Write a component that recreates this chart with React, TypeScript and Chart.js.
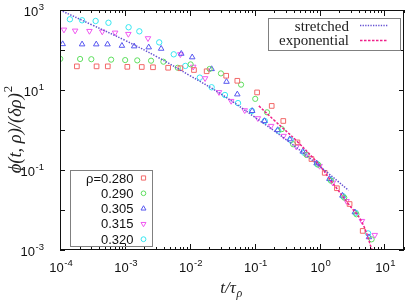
import React, { useEffect, useRef } from "react";
import { Chart, registerables } from "chart.js";

Chart.register(...registerables);

// ---- axis ranges / ticks ----
const X_MIN = 1e-4;
const X_MAX = 20;
const Y_MIN = 1e-3;
const Y_MAX = 1e3;
const xTickExps = [-4, -3, -2, -1, 0, 1];
const yTickExps = [-3, -2, -1, 0, 1, 2, 3];
const yLabelExps = [-3, -1, 1, 3];

// ---- series ----
const rhoLabels = ["ρ=0.280", "0.290", "0.305", "0.315", "0.320"];

const t280 = [1.82e-4, 3.66e-4, 5.45e-4, 1.09e-3, 1.82e-3, 2.71e-3, 4.64e-3, 7.16e-3, 0.0116, 0.0182, 0.0364, 0.054, 0.109, 0.183, 0.276, 0.456, 0.75, 1.2, 1.85, 2.9, 4.62];
const p280 = [39, 39, 39, 38, 37.6, 37, 36, 35, 31.6, 29.4, 22.7, 17, 8.7, 4.0, 1.68, 0.49, 0.188, 0.085, 0.035, 0.0141, 0.003];

const t290 = [1.01e-4, 2.04e-4, 3.04e-4, 6.14e-4, 1.01e-3, 1.55e-3, 2.53e-3, 3.92e-3, 6.52e-3, 0.0103, 0.0202, 0.0302, 0.0617, 0.102, 0.155, 0.262, 0.392, 0.63, 0.95, 1.5, 2.4, 3.7, 6.34];
const p290 = [60, 59.6, 58.8, 57.4, 56, 55, 54, 51, 36, 43.7, 33.5, 26, 13.6, 6.0, 2.77, 1.05, 0.44, 0.238, 0.136, 0.054, 0.0204, 0.0078, 0.00185];

const t305 = [1.1e-4, 2.19e-4, 3.62e-4, 5.4e-4, 9.0e-4, 1.39e-3, 2.33e-3, 3.62e-3, 7.4e-3, 0.0109, 0.0217, 0.0368, 0.054, 0.0916, 0.1416, 0.226, 0.347, 0.55, 0.9, 1.42, 2.25, 3.5, 5.77];
const p305 = [141, 139, 139, 139, 128, 124, 117, 108, 81, 66, 33.5, 16.1, 7.8, 3.0, 1.68, 1.0, 0.59, 0.29, 0.148, 0.06, 0.023, 0.0088, 0.0021];

const t315 = [1.15e-4, 1.71e-4, 2.84e-4, 4.48e-4, 7.07e-4, 1.13e-3, 2.27e-3, 7.16e-3, 0.0113, 0.0172, 0.0282, 0.0434, 0.0702, 0.112, 0.179, 0.279, 0.44, 0.62, 1.0, 1.6, 2.6, 4.5, 7.1];
const p315 = [322, 304, 298, 288, 271, 251, 196, 78, 38, 19.6, 8.8, 5.3, 3.1, 1.96, 1.26, 0.71, 0.38, 0.245, 0.126, 0.048, 0.0167, 0.0053, 0.00237];

const t320 = [1.42e-4, 2.19e-4, 3.54e-4, 5.58e-4, 1.14e-3, 1.67e-3, 3.38e-3, 5.66e-3, 8.54e-3, 0.01425, 0.0217, 0.0348, 0.0554, 0.0906, 0.143, 0.231, 0.36, 0.58, 0.92, 1.45, 2.3, 3.6, 5.6];
const p320 = [586, 553, 531, 480, 370, 293, 155, 78, 40, 20.4, 11.7, 7.5, 4.7, 3.0, 1.68, 0.96, 0.56, 0.27, 0.14, 0.058, 0.022, 0.0085, 0.0026];

// fit curves
const tStretched = [1e-4, 3.16e-4, 1e-3, 3.16e-3, 0.01, 0.0316, 0.1, 0.316, 1, 2.8];
const pStretched = [1000, 420, 175, 67, 23, 7.6, 2.1, 0.55, 0.125, 0.031];
const tExponential = [0.116, 0.2, 0.456, 1.0, 1.435, 2.8, 4.46, 6.56];
const pExponential = [4.0, 1.75, 0.51, 0.13, 0.059, 0.014, 0.0051, 0.00091];

const fitLabels = ["stretched", "exponential"];

const seriesT = [t280, t290, t305, t315, t320];
const seriesP = [p280, p290, p305, p315, p320];
const seriesColors = ["#f26868", "#5ede5e", "#5858f0", "#f058f0", "#35e6f0"];
const seriesStyles = ["rect", "circle", "triangle", "triangle", "circle"];
const seriesRot = [0, 0, 0, 180, 0];
const seriesRadius = [3.3, 2.6, 3.2, 3.2, 2.7];
const stretchedColor = "#6450d2";
const exponentialColor = "#f0208a";

const SANS = '"Liberation Sans", Arial, sans-serif';
const SERIF = '"Liberation Serif", "Times New Roman", serif';

function toXY(ts: number[], ps: number[]) {
  return ts.map((t, i) => ({ x: t, y: ps[i] }));
}

function drawPow(ctx: CanvasRenderingContext2D, exp: number, x: number, y: number, align: "center" | "right") {
  const base = "10";
  const sup = exp < 0 ? "-" + Math.abs(exp) : String(exp);
  ctx.font = `13px ${SANS}`;
  const w1 = ctx.measureText(base).width;
  ctx.font = `9.5px ${SANS}`;
  const w2 = ctx.measureText(sup).width;
  const total = w1 + w2 + 0.5;
  const x0 = align === "center" ? x - total / 2 : x - total;
  ctx.textAlign = "left";
  ctx.textBaseline = "alphabetic";
  ctx.font = `13px ${SANS}`;
  ctx.fillText(base, x0, y);
  ctx.font = `9.5px ${SANS}`;
  ctx.fillText(sup, x0 + w1 + 0.5, y - 6);
}

const framePlugin = {
  id: "gnuFrame",
  afterDraw(chart: any) {
    const ctx: CanvasRenderingContext2D = chart.ctx;
    const { left, right, top, bottom } = chart.chartArea;
    const xs = chart.scales.x;
    const ys = chart.scales.y;
    ctx.save();
    ctx.strokeStyle = "#111";
    ctx.lineWidth = 1;
    ctx.strokeRect(Math.round(left) + 0.5, Math.round(top) + 0.5, Math.round(right - left) - 1, Math.round(bottom - top) - 1);

    // x ticks (inward, bottom and top)
    ctx.beginPath();
    for (const e of xTickExps) {
      for (let m = 1; m <= 9; m++) {
        const v = m * Math.pow(10, e);
        if (v < X_MIN || v > X_MAX) continue;
        const px = Math.round(xs.getPixelForValue(v)) + 0.5;
        const len = m === 1 ? 6 : 3;
        ctx.moveTo(px, bottom);
        ctx.lineTo(px, bottom - len);
        ctx.moveTo(px, top);
        ctx.lineTo(px, top + len);
      }
    }
    for (const e of yTickExps) {
      const py = Math.round(ys.getPixelForValue(Math.pow(10, e))) + 0.5;
      ctx.moveTo(left, py);
      ctx.lineTo(left + 5, py);
      ctx.moveTo(right, py);
      ctx.lineTo(right - 5, py);
    }
    ctx.stroke();

    // tick labels
    ctx.fillStyle = "#111";
    for (const e of xTickExps) {
      const px = xs.getPixelForValue(Math.pow(10, e));
      drawPow(ctx, e, px + 1, bottom + 22, "center");
    }
    for (const e of yLabelExps) {
      const py = ys.getPixelForValue(Math.pow(10, e));
      drawPow(ctx, e, left - 16, py + 6, "right");
    }

    // axis titles
    ctx.fillStyle = "#222";
    // x title: t/τ_ρ
    {
      const main = "t/τ";
      const sub = "ρ";
      ctx.font = `italic 17px ${SERIF}`;
      const w1 = ctx.measureText(main).width;
      ctx.font = `italic 12px ${SERIF}`;
      const w2 = ctx.measureText(sub).width;
      const cx = (left + right) / 2 - 1;
      const x0 = cx - (w1 + w2) / 2;
      const by = 293;
      ctx.textAlign = "left";
      ctx.textBaseline = "alphabetic";
      ctx.font = `italic 17px ${SERIF}`;
      ctx.fillText(main, x0, by);
      ctx.font = `italic 12px ${SERIF}`;
      ctx.fillText(sub, x0 + w1 + 0.5, by + 4);
    }
    // y title: ϕ(t, ρ)/(δρ)^2
    {
      const main = "ϕ(t, ρ)/(δρ)";
      const sup = "2";
      ctx.save();
      ctx.translate(21, (top + bottom) / 2);
      ctx.rotate(-Math.PI / 2);
      ctx.font = `italic 18.5px ${SERIF}`;
      const w1 = ctx.measureText(main).width;
      ctx.font = `13px ${SERIF}`;
      const w2 = ctx.measureText(sup).width;
      const x0 = -(w1 + w2) / 2;
      ctx.textAlign = "left";
      ctx.textBaseline = "alphabetic";
      ctx.font = `italic 18.5px ${SERIF}`;
      ctx.fillText(main, x0, 0);
      ctx.font = `13px ${SERIF}`;
      ctx.fillText(sup, x0 + w1 + 1, -9);
      ctx.restore();
    }

    // upper-right legend (fits)
    ctx.strokeStyle = "#808080";
    ctx.strokeRect(268.5, 18.5, 132, 32);
    ctx.font = `15px ${SERIF}`;
    ctx.textAlign = "right";
    ctx.textBaseline = "alphabetic";
    ctx.fillStyle = "#222";
    ctx.fillText(fitLabels[0], 349, 31);
    ctx.fillText(fitLabels[1], 349, 45);
    ctx.lineWidth = 1.3;
    ctx.strokeStyle = stretchedColor;
    ctx.setLineDash([1.3, 1.3]);
    ctx.beginPath();
    ctx.moveTo(360, 25.5);
    ctx.lineTo(388, 25.5);
    ctx.stroke();
    ctx.strokeStyle = exponentialColor;
    ctx.setLineDash([2.5, 1.5]);
    ctx.beginPath();
    ctx.moveTo(360, 40.5);
    ctx.lineTo(388, 40.5);
    ctx.stroke();
    ctx.setLineDash([]);

    // lower-left legend (densities)
    ctx.lineWidth = 1;
    ctx.strokeStyle = "#808080";
    ctx.strokeRect(70.5, 170.5, 82, 76);
    ctx.font = `13px ${SANS}`;
    ctx.textAlign = "right";
    for (let i = 0; i < rhoLabels.length; i++) {
      const by = 182.5 + i * 15.3;
      ctx.fillStyle = "#111";
      ctx.fillText(rhoLabels[i], 133.5, by);
      ctx.strokeStyle = seriesColors[i];
      ctx.lineWidth = 1;
      const r = seriesRadius[i] * 0.9;
      const cy = by - 4.5;
      const cx = 143.5;
      ctx.beginPath();
      if (seriesStyles[i] === "rect") {
        const s = r * Math.SQRT1_2;
        ctx.rect(cx - s, cy - s, 2 * s, 2 * s);
      } else if (seriesStyles[i] === "circle") {
        ctx.arc(cx, cy, r, 0, Math.PI * 2);
      } else {
        const dir = seriesRot[i] === 180 ? -1 : 1;
        ctx.moveTo(cx, cy - dir * r);
        ctx.lineTo(cx + r * 0.866, cy + dir * r * 0.5);
        ctx.lineTo(cx - r * 0.866, cy + dir * r * 0.5);
        ctx.closePath();
      }
      ctx.stroke();
    }
    ctx.restore();
  },
};

export default function App() {
  const ref = useRef<HTMLCanvasElement | null>(null);
  useEffect(() => {
    if (!ref.current) return;
    const datasets: any[] = seriesT.map((ts, i) => ({
      type: "scatter",
      label: rhoLabels[i],
      data: toXY(ts, seriesP[i]),
      pointStyle: seriesStyles[i],
      rotation: seriesRot[i],
      pointRadius: seriesRadius[i],
      pointBorderWidth: 1,
      borderColor: seriesColors[i],
      backgroundColor: "rgba(0,0,0,0)",
      showLine: false,
      order: 2,
    }));
    datasets.push({
      type: "line",
      label: fitLabels[0],
      data: toXY(tStretched, pStretched),
      borderColor: stretchedColor,
      borderWidth: 1.5,
      borderDash: [1.4, 1.4],
      pointRadius: 0,
      tension: 0.4,
      fill: false,
      order: 1,
    });
    datasets.push({
      type: "line",
      label: fitLabels[1],
      data: toXY(tExponential, pExponential),
      borderColor: exponentialColor,
      borderWidth: 1.5,
      borderDash: [2.5, 1.5],
      pointRadius: 0,
      tension: 0.4,
      fill: false,
      order: 1,
    });
    const chart = new Chart(ref.current, {
      type: "scatter",
      data: { datasets },
      options: {
        responsive: false,
        animation: false,
        layout: { padding: { left: 60, right: 3, top: 10, bottom: 56 } },
        plugins: { legend: { display: false }, tooltip: { enabled: false } },
        scales: {
          x: { type: "logarithmic", min: X_MIN, max: X_MAX, display: false },
          y: { type: "logarithmic", min: Y_MIN, max: Y_MAX, display: false },
        },
      } as any,
      plugins: [framePlugin as any],
    });
    return () => chart.destroy();
  }, []);
  return (
    <div style={{ position: "absolute", left: 0, top: 0, width: 409, height: 306, background: "#fff" }}>
      <canvas ref={ref} width={409} height={306} style={{ display: "block" }} />
    </div>
  );
}
